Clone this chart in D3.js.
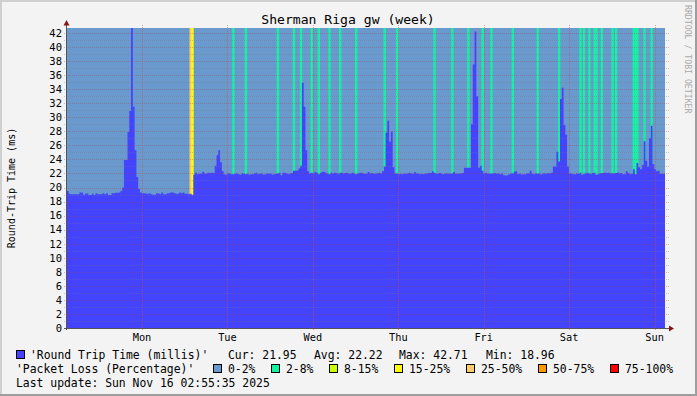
<!DOCTYPE html>
<html>
<head>
<meta charset="utf-8">
<script src="https://cdn.jsdelivr.net/npm/d3@7"></script>
<style>
  body { margin: 0; background: #f3f3f3; }
  svg { display: block; font-family: "DejaVu Sans Mono", monospace; }
</style>
</head>
<body>
<svg id="chart" width="697" height="396"></svg>
<script>
"use strict";

// round trip time, one value per 30 min bin, Sun Nov 9 02:55 -> Sun Nov 16 02:55
const rttMillis = [
  // Sun -> Mon
  19.5, 19.1, 19.05, 19.05, 19.05, 19.05, 19.05, 19.3, 19.3, 18.95, 19.15, 19.15, 18.95, 18.95, 19.1,
  18.95, 19.2, 19.05, 19.05, 19.05, 19.2, 19.05, 19.2, 18.95, 18.95, 19.2, 19.2, 19.25, 19.25, 19.3,
  19.5, 20.0, 23.9, 23.9, 27.9, 30.9, 42.71, 31.5, 25.3, 21.5, 19.8,
  19.3, 19.2, 19.2, 19.1, 19.1, 19.2, 19.05, 18.96, 18.96, 19.2, 19.15, 19.05, 19.3, 19.05, 19.05,
  19.2, 19.2, 19.3, 19.3, 19.2, 19.1, 19.1, 19.3, 19.2, 19.3, 19.1, 19.1, 19.05, 19.1,
  18.96,
  // Mon evening -> Tue
  21.8, 22.1, 21.9, 21.95, 21.95, 22.25, 22.0, 22.0, 22.1, 22.05, 22.1, 22.05,
  23.1, 24.6, 25.3, 23.6, 22.3,
  21.9, 21.8, 22.0, 22.0, 21.9, 21.9, 21.95, 22.0, 21.9, 21.8, 22.0, 21.95, 21.9, 21.95, 21.8,
  21.9, 21.9, 22.0, 22.1, 21.9, 21.95, 22.0, 21.8, 21.9, 22.0, 21.95, 22.0, 21.8, 21.9, 21.95,
  22.0, 22.05, 21.75, 22.1, 22.1, 22.0, 21.9, 22.0, 22.05, 22.4, 22.4, 22.4,
  // Wed
  22.7, 23.1, 34.9, 31.5, 25.3, 22.3,
  22.0, 22.1, 22.0, 22.2, 22.1, 21.9, 22.05, 22.2, 22.25, 22.1, 22.0, 21.9, 22.1, 22.0, 22.1,
  22.05, 21.9, 22.1, 22.1, 22.0, 22.05, 22.1, 21.95, 22.0, 22.1, 22.0, 21.9, 22.0, 22.05, 22.1,
  22.0, 21.95, 22.0, 22.2, 22.0, 22.05, 21.95, 22.0, 22.0, 22.1, 22.0, 22.3,
  // Thu
  23.0, 27.8, 29.5, 26.5, 27.95, 22.9, 22.0,
  22.0, 21.9, 21.95, 21.9, 22.0, 21.95, 22.0, 22.1, 22.0, 21.95, 22.2, 22.0, 22.0, 21.9, 21.95,
  21.9, 22.0, 22.0, 22.1, 22.05, 22.3, 22.1, 22.0, 21.95, 22.05, 22.0, 21.9, 22.0, 22.0, 21.95,
  22.0, 22.0, 22.2, 22.0, 21.95, 22.0, 22.0, 22.05, 22.8,
  // Fri
  22.8, 22.8, 22.8, 29.0, 37.5, 42.2, 33.0, 22.8, 23.1, 22.4,
  22.0, 22.1, 22.0, 21.95, 22.0, 22.0, 22.05, 21.95, 22.0, 21.9, 22.0, 21.75, 21.7, 21.75, 21.9,
  22.0, 22.0, 22.25, 22.3, 21.9, 22.0, 21.85, 21.9, 21.9, 22.0, 22.0, 22.4, 22.0, 21.9, 22.0,
  21.95, 22.0, 21.85, 22.0, 22.0, 21.95, 22.05, 22.0, 22.1,
  // Sat
  23.0, 23.0, 25.1, 23.7, 32.6, 34.2, 28.9, 27.5, 23.0, 22.0,
  22.0, 21.9, 21.9, 22.0, 21.95, 22.1, 21.8, 21.95, 22.0, 22.1, 22.0, 21.95, 22.05, 22.1, 21.8,
  21.9, 22.0, 22.05, 22.05, 22.1, 22.05, 22.1, 22.0, 22.05, 22.0, 22.05, 22.15, 22.0, 22.05, 21.9,
  21.9, 22.3, 22.05, 21.9, 21.95,
  // Sun
  22.6, 21.9, 23.5, 22.9, 22.6, 23.2, 26.6, 23.8, 23.0, 27.0, 28.8, 23.3, 22.6, 22.3, 22.4,
  21.95, 21.95, 21.95
];

// bins with packet loss (all other bins 0%)
const lossBins = [69, 70, 93, 100, 118, 127, 131, 137, 141, 147, 153, 162, 178, 185, 206, 216, 225, 233,
  238, 250, 264, 276, 288, 290, 293, 296, 297, 300, 306, 308, 318, 319, 320, 324, 328];
const lossPercent = [30, 20, 5, 5, 5, 5, 5, 5, 5, 5, 5, 5, 5, 5, 5, 5, 5, 5,
  5, 5, 5, 5, 5, 5, 5, 5, 5, 5, 5, 5, 5, 5, 5, 5, 5];

const lossLabels = ["0-2%", "2-8%", "8-15%", "15-25%", "25-50%", "50-75%", "75-100%"];
const lossLimits = [2, 8, 15, 25, 50, 75, 100];
const lossColors = ["#6a9acd", "#14f2a2", "#ccff00", "#ffff00", "#ffcc66", "#ff9900", "#ff0000"];

const dayLabels = ["Mon", "Tue", "Wed", "Thu", "Fri", "Sat", "Sun"];
const rttStats = ["Cur: 21.95", "Avg: 22.22", "Max: 42.71", "Min: 18.96"];

const W = 697, H = 396;
const plot = { left: 67, right: 665, top: 28, bottom: 328 };
const rttColor = "#4444ff";

const tStart = new Date(2025, 10, 9, 2, 55, 35);
const tEnd = new Date(2025, 10, 16, 2, 55, 35);
const step = (tEnd - tStart) / rttMillis.length;
const binTime = i => new Date(+tStart + i * step);

const x = d3.scaleTime().domain([tStart, tEnd]).range([plot.left, plot.right]);
const y = d3.scaleLinear().domain([0, 42.71]).range([plot.bottom, plot.top]);

const svg = d3.select("#chart");

// background + shaded frame
svg.append("rect").attr("width", W).attr("height", H).attr("fill", "#f3f3f3");
svg.append("path").attr("d", `M0,0H${W}V2H2V${H}H0Z`).attr("fill", "#cfcfcf");
svg.append("path").attr("d", `M${W},0V${H}H0V${H - 2}H${W - 2}V0Z`).attr("fill", "#9e9e9e");

// canvas coloured by 0-2% loss
svg.append("rect")
  .attr("x", plot.left).attr("y", plot.top)
  .attr("width", plot.right - plot.left).attr("height", plot.bottom - plot.top)
  .attr("fill", lossColors[0]);

function lossColor(p) {
  let i = lossLimits.findIndex(l => p <= l);
  return lossColors[i < 0 ? lossColors.length - 1 : i];
}

// loss stripes, a bit wider than one bin like the rrd render
svg.append("g")
  .selectAll("rect").data(lossBins)
  .enter().append("rect")
  .attr("x", b => x(binTime(b)) - 0.3)
  .attr("width", b => x(binTime(b + 1)) - x(binTime(b)) + 0.6)
  .attr("y", plot.top)
  .attr("height", plot.bottom - plot.top)
  .attr("fill", (b, i) => lossColor(lossPercent[i]));

// rtt area
let pts = rttMillis.map((v, i) => ({ t: binTime(i), v: v }));
pts.push({ t: tEnd, v: rttMillis[rttMillis.length - 1] });

let area = d3.area()
  .x(d => x(d.t))
  .y0(plot.bottom)
  .y1(d => y(d.v))
  .curve(d3.curveStepAfter);

svg.append("path").datum(pts)
  .attr("d", area)
  .attr("fill", rttColor);

// grid
let grid = svg.append("g").attr("stroke-dasharray", "1,1").attr("stroke-width", 1);
d3.range(1, 43).forEach(v => {
  let yy = Math.round(y(v)) + 0.5;
  grid.append("line")
    .attr("x1", plot.left - 3).attr("x2", plot.right + 4)
    .attr("y1", yy).attr("y2", yy)
    .attr("stroke", v % 2 === 0 ? "rgba(170,60,60,0.35)" : "rgba(120,120,120,0.35)");
});

let days = d3.timeDay.range(tStart, tEnd);
days.forEach(d => {
  let xx = Math.round(x(d)) + 0.5;
  grid.append("line")
    .attr("x1", xx).attr("x2", xx)
    .attr("y1", plot.top - 3).attr("y2", plot.bottom + 3)
    .attr("stroke", "rgba(220,70,70,0.5)");
});

// axes
svg.append("line")
  .attr("x1", plot.left - 0.5).attr("x2", plot.left - 0.5)
  .attr("y1", plot.bottom + 2).attr("y2", plot.top - 4)
  .attr("stroke", "#555");
svg.append("line")
  .attr("x1", plot.left - 3).attr("x2", plot.right + 4)
  .attr("y1", plot.bottom + 0.5).attr("y2", plot.bottom + 0.5)
  .attr("stroke", "#555");
svg.append("path")
  .attr("d", `M${plot.left - 3.5},${plot.top - 2.5}L${plot.left + 2.5},${plot.top - 2.5}L${plot.left - 0.5},${plot.top - 8}Z`)
  .attr("fill", "#8b1515");
svg.append("path")
  .attr("d", `M${plot.right + 4},${plot.bottom - 2.5}L${plot.right + 4},${plot.bottom + 3.5}L${plot.right + 9},${plot.bottom + 0.5}Z`)
  .attr("fill", "#8b1515");

// y labels
svg.append("g").attr("font-size", "10.5px").attr("text-anchor", "end").attr("fill", "#000")
  .selectAll("text").data(d3.range(0, 43, 2))
  .enter().append("text")
  .attr("x", plot.left - 5)
  .attr("y", v => y(v) + 3.8)
  .text(v => v);

// day labels
svg.append("g").attr("font-size", "10.3px").attr("text-anchor", "middle")
  .selectAll("text").data(days)
  .enter().append("text")
  .attr("x", d => x(d))
  .attr("y", 341)
  .text((d, i) => dayLabels[i]);

// titles
svg.append("text")
  .attr("x", 348).attr("y", 24)
  .attr("text-anchor", "middle").attr("font-size", "13.1px")
  .text("Sherman Riga gw (week)");

svg.append("text")
  .attr("transform", "translate(15,188) rotate(-90)")
  .attr("text-anchor", "middle").attr("font-size", "10px")
  .text("Round-Trip Time (ms)");

svg.append("text")
  .attr("transform", "translate(685,5) rotate(90)")
  .attr("font-size", "8.2px").attr("fill", "#aaa")
  .text("RRDTOOL / TOBI OETIKER");

// legend
let legend = svg.append("g").attr("font-size", "11.4px");
legend.append("rect").attr("x", 16.5).attr("y", 350.5).attr("width", 8).attr("height", 8)
  .attr("fill", rttColor).attr("stroke", "#000");
legend.append("text").attr("x", 30).attr("y", 358.5).text("'Round Trip Time (millis)'");
[228, 314, 399, 486].forEach((lx, i) => {
  legend.append("text").attr("x", lx).attr("y", 358.5).text(rttStats[i]);
});

legend.append("text").attr("x", 16).attr("y", 372.5).text("'Packet Loss (Percentage)'");
const lossBoxX = [213, 271, 329, 394, 466, 538, 610];
lossLabels.forEach((lab, i) => {
  legend.append("rect").attr("x", lossBoxX[i] + 0.5).attr("y", 364.5).attr("width", 8).attr("height", 8)
    .attr("fill", lossColors[i]).attr("stroke", "#000");
  legend.append("text").attr("x", lossBoxX[i] + 15).attr("y", 372.5).text(lab);
});

legend.append("text").attr("x", 16).attr("y", 386.5).text("Last update: Sun Nov 16 02:55:35 2025");
</script>
</body>
</html>
